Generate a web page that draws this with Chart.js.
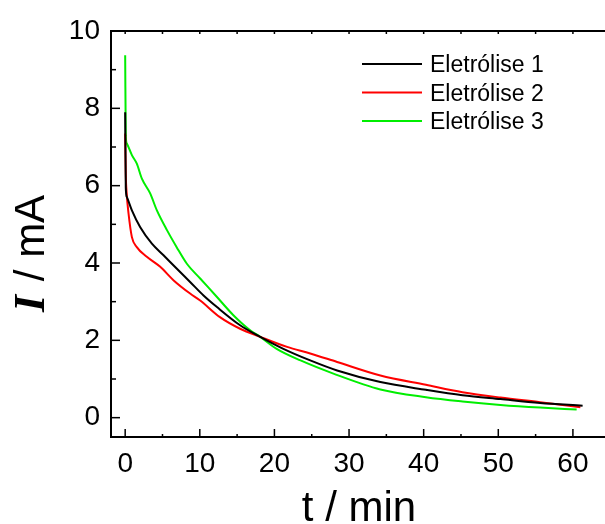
<!DOCTYPE html>
<html>
<head>
<meta charset="utf-8">
<script src="https://cdn.jsdelivr.net/npm/chart.js@4.4.1/dist/chart.umd.min.js"></script>
<style>
    html, body { margin: 0; padding: 0; background: #fff; }
    canvas { display: block; }
</style>
</head>
<body>
<canvas id="chart" width="605" height="524"></canvas>
<script>
// t / min and I / mA
const time1 = [0, 0.08, 0.22, 0.9, 2.0, 3.58, 5.14, 6.93, 8.7, 10.5, 12.3, 15.4, 18.1, 21.2, 24.8, 28.4, 34.2, 40.3, 45.2, 50.3, 55.6, 61.3];
const current1 = [7.9, 5.95, 5.71, 5.36, 4.93, 4.5, 4.2, 3.85, 3.51, 3.16, 2.86, 2.39, 2.09, 1.78, 1.48, 1.22, 0.92, 0.72, 0.58, 0.48, 0.38, 0.31];

const time2 = [0, 0.08, 0.2, 0.45, 0.9, 1.56, 2.9, 4.7, 6.5, 8.7, 10.05, 12.7, 15.4, 18.1, 21.7, 24.8, 28.4, 34.2, 40.3, 45.2, 50.3, 55.6, 61.0];
const current2 = [7.35, 6.3, 5.8, 5.28, 4.67, 4.41, 4.16, 3.9, 3.55, 3.21, 3.03, 2.6, 2.3, 2.09, 1.83, 1.66, 1.44, 1.09, 0.85, 0.66, 0.52, 0.4, 0.27];

const time3 = [0, 0.08, 0.22, 0.9, 1.56, 2.24, 3.35, 4.25, 5.6, 6.9, 8.27, 10.05, 12.3, 14.5, 16.75, 18.1, 20.3, 23.5, 27.9, 34.2, 40.3, 45.2, 50.3, 55.6, 60.5];
const current3 = [9.37, 7.3, 7.09, 6.79, 6.57, 6.18, 5.8, 5.36, 4.85, 4.41, 3.98, 3.6, 3.12, 2.65, 2.26, 2.09, 1.78, 1.48, 1.14, 0.73, 0.53, 0.42, 0.33, 0.26, 0.21];

const seriesLabels = ["Eletrólise 1", "Eletrólise 2", "Eletrólise 3"];

const xTicks = [0, 10, 20, 30, 40, 50, 60];
const xMinorTicks = [5, 15, 25, 35, 45, 55];
const yTicks = [0, 2, 4, 6, 8, 10];
const yMinorTicks = [1, 3, 5, 7, 9];

const SANS = "\"Liberation Sans\", Arial, sans-serif";

function toPoints(times, values) {
    return times.map((t, k) => ({ x: t, y: values[k] }));
}

function line(ctx, x1, y1, x2, y2) {
    ctx.beginPath();
    ctx.moveTo(x1, y1);
    ctx.lineTo(x2, y2);
    ctx.stroke();
}

// frame, inward ticks, axis titles and the legend
const decorations = {
    id: "decorations",
    afterDraw(chart) {
        const { ctx, chartArea: area, scales: { x, y } } = chart;
        ctx.save();
        ctx.strokeStyle = "#000";
        ctx.lineWidth = 2;

        ctx.beginPath();
        ctx.moveTo(area.right + 2, area.top);
        ctx.lineTo(area.left, area.top);
        ctx.lineTo(area.left, area.bottom);
        ctx.lineTo(area.right + 2, area.bottom);
        ctx.stroke();

        ctx.lineWidth = 1.5;
        yTicks.forEach(v => line(ctx, area.left, y.getPixelForValue(v), area.left + 9, y.getPixelForValue(v)));
        yMinorTicks.forEach(v => line(ctx, area.left, y.getPixelForValue(v), area.left + 5, y.getPixelForValue(v)));
        xTicks.forEach(v => {
            const px = x.getPixelForValue(v);
            line(ctx, px, area.bottom, px, area.bottom - 8);
            line(ctx, px, area.top, px, area.top + 3);
        });
        xMinorTicks.forEach(v => {
            const px = x.getPixelForValue(v);
            line(ctx, px, area.bottom, px, area.bottom - 3);
            line(ctx, px, area.top, px, area.top + 3);
        });

        ctx.fillStyle = "#000";
        ctx.textBaseline = "alphabetic";

        // x title
        ctx.font = "42px " + SANS;
        ctx.textAlign = "center";
        ctx.fillText("t / min", (area.left + area.right) / 2 + 1, 521);

        // y title: bold italic serif I, then sans
        ctx.save();
        ctx.translate(44, 312);
        ctx.rotate(-Math.PI / 2);
        ctx.textAlign = "left";
        ctx.font = "bold italic 44px \"Liberation Serif\", \"Times New Roman\", serif";
        ctx.fillText("I", 0, 0);
        const w = ctx.measureText("I").width;
        ctx.font = "42px " + SANS;
        ctx.fillText(" / mA", w + 2, 0);
        ctx.restore();

        // legend
        ctx.font = "23px " + SANS;
        ctx.textAlign = "left";
        chart.data.datasets.forEach((ds, k) => {
            const ly = 64 + k * 28.5;
            ctx.strokeStyle = ds.borderColor;
            ctx.lineWidth = 2;
            line(ctx, 362, ly, 422, ly);
            ctx.fillStyle = "#000";
            ctx.fillText(ds.label, 430, ly + 8);
        });
        ctx.restore();
    }
};

const datasetDefaults = {
    borderWidth: 2,
    pointRadius: 0,
    cubicInterpolationMode: "monotone",
    fill: false
};

new Chart(document.getElementById("chart"), {
    type: "line",
    data: {
        datasets: [
            { ...datasetDefaults, label: seriesLabels[0], data: toPoints(time1, current1), borderColor: "#000000" },
            { ...datasetDefaults, label: seriesLabels[1], data: toPoints(time2, current2), borderColor: "#ff0000" },
            { ...datasetDefaults, label: seriesLabels[2], data: toPoints(time3, current3), borderColor: "#00ee00" }
        ]
    },
    options: {
        responsive: false,
        animation: false,
        events: [],
        layout: { padding: { top: 31, right: 0, bottom: 0, left: 0 } },
        plugins: {
            legend: { display: false },
            tooltip: { enabled: false }
        },
        scales: {
            x: {
                type: "linear",
                min: -1.9,
                max: 64.3,
                afterBuildTicks: scale => { scale.ticks = xTicks.map(v => ({ value: v })); },
                afterFit: scale => { scale.height = 87; },
                grid: { display: false, drawTicks: false },
                border: { display: false },
                ticks: {
                    color: "#000",
                    font: { family: SANS, size: 28 },
                    padding: 10,
                    maxRotation: 0,
                    autoSkip: false
                }
            },
            y: {
                type: "linear",
                min: -0.5,
                max: 10,
                afterBuildTicks: scale => { scale.ticks = yTicks.map(v => ({ value: v })); },
                afterFit: scale => { scale.width = 111; },
                grid: { display: false, drawTicks: false },
                border: { display: false },
                ticks: {
                    color: "#000",
                    font: { family: SANS, size: 28 },
                    padding: 11
                }
            }
        }
    },
    plugins: [decorations]
});
</script>
</body>
</html>
